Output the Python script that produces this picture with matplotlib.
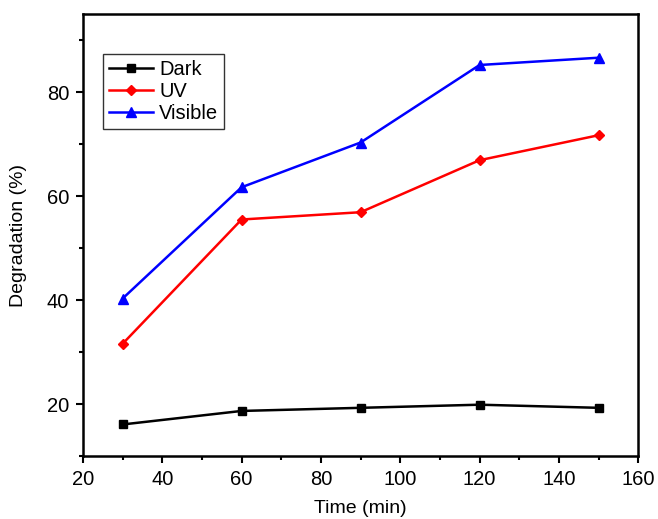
import numpy as np
import matplotlib
matplotlib.use("Agg")
import matplotlib.pyplot as plt
from matplotlib.ticker import MultipleLocator

plt.rcParams['font.family'] = ['Liberation Sans', 'DejaVu Sans']

time_min = [30, 60, 90, 120, 150]
dark = [16.1, 18.7, 19.3, 19.9, 19.3]
uv = [31.6, 55.5, 56.9, 66.9, 71.7]
visible = [40.3, 61.7, 70.3, 85.2, 86.6]

fig = plt.figure(figsize=(6.58, 5.19), dpi=100)
ax = fig.add_axes([0.126, 0.121, 0.844, 0.852])

ax.plot(time_min, dark, color='black', marker='s', markersize=6, linewidth=1.8, label='Dark')
ax.plot(time_min, uv, color='red', marker='D', markersize=5, linewidth=1.8, label='UV')
ax.plot(time_min, visible, color='blue', marker='^', markersize=7.5, linewidth=1.8, label='Visible')

ax.set_xlim(20, 160)
ax.set_ylim(10, 95)
ax.xaxis.set_major_locator(MultipleLocator(20))
ax.xaxis.set_minor_locator(MultipleLocator(10))
ax.yaxis.set_major_locator(MultipleLocator(20))
ax.yaxis.set_minor_locator(MultipleLocator(10))
ax.tick_params(which='major', direction='out', length=5, width=1.5, labelsize=14.5, pad=5)
ax.tick_params(which='minor', direction='out', length=3, width=1.5)
for s in ax.spines.values():
    s.set_linewidth(1.8)

ax.set_xlabel('Time (min)', fontsize=14, labelpad=8)
ax.set_ylabel('Degradation (%)', fontsize=14, labelpad=14)

leg = ax.legend(loc='upper left', bbox_to_anchor=(0.036, 0.91), fontsize=14.5,
                frameon=True, fancybox=False, edgecolor='black', handlelength=2.2,
                handletextpad=0.3, borderpad=0.3, labelspacing=0.15, borderaxespad=0)
leg.get_frame().set_linewidth(1.0)

fig.savefig('out.png', dpi=100)
